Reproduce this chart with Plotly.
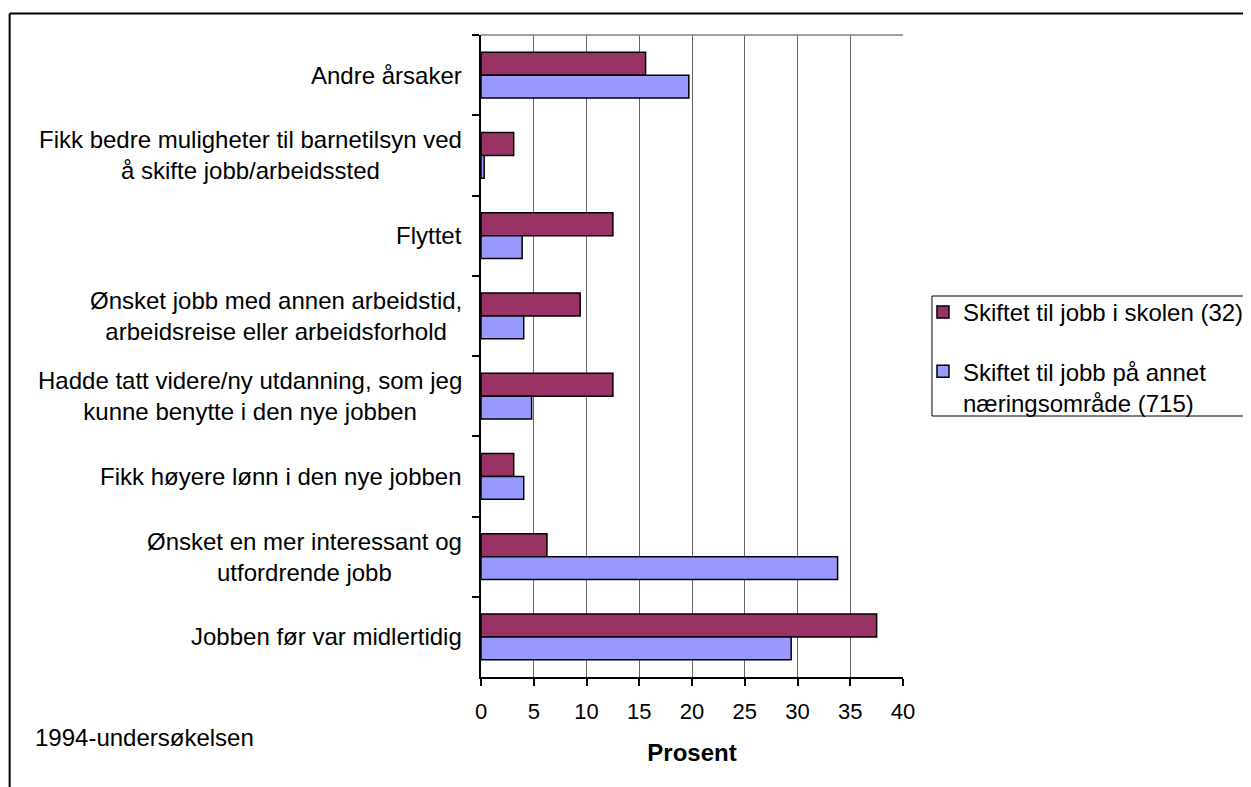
import plotly.graph_objects as go

categories = [
    "Andre årsaker",
    "Fikk bedre muligheter til barnetilsyn ved<br>å skifte jobb/arbeidssted",
    "Flyttet",
    "Ønsket jobb med annen arbeidstid,<br>arbeidsreise eller arbeidsforhold",
    "Hadde tatt videre/ny utdanning, som jeg<br>kunne benytte i den nye jobben",
    "Fikk høyere lønn i den nye jobben",
    "Ønsket en mer interessant og<br>utfordrende jobb",
    "Jobben før var midlertidig",
]
skole = [15.6, 3.1, 12.5, 9.4, 12.5, 3.1, 6.25, 37.5]
annet = [19.7, 0.3, 3.9, 4.05, 4.8, 4.05, 33.8, 29.4]
series_names = ["Skiftet til jobb i skolen (32)", "Skiftet til jobb på annet<br>næringsområde (715)"]
x_ticks = [0, 5, 10, 15, 20, 25, 30, 35, 40]
x_title = "Prosent"
footnote = "1994-undersøkelsen"

FONT = "Liberation Sans, Arial, sans-serif"
W, H = 1251, 787
OFF = 8  # page offset of the figure div (body margin)
# plot area in page pixel coordinates
L, R, T, B = 480.7, 903.0, 35.0, 677.0
PW, PH = R - L, B - T


def px(xp):
    return (xp - L) / PW


def py(yp):
    return (B - yp) / PH


fig = go.Figure()
fig.add_trace(go.Bar(
    y=categories, x=skole, orientation="h", name=series_names[0],
    marker=dict(color="#993366", line=dict(color="black", width=1.5)),
    legendgroup="a",
))
fig.add_trace(go.Bar(
    y=categories, x=annet, orientation="h", name=series_names[1],
    marker=dict(color="#9999FF", line=dict(color="black", width=1.5)),
    legendgroup="b",
))

annotations = []
for c in categories:
    annotations.append(dict(
        x=0, xref="paper", y=c, yref="y", text=c, showarrow=False,
        xanchor="right", yanchor="middle", align="center", xshift=-17,
        font=dict(family=FONT, size=24, color="black"),
    ))
annotations.append(dict(
    x=px(32), xref="paper", y=py(737), yref="paper", text=footnote,
    showarrow=False, xanchor="left", yanchor="middle",
    font=dict(family=FONT, size=24, color="black"),
))

shapes = [
    # plot top border
    dict(type="line", xref="paper", yref="paper", x0=0, x1=1, y0=1, y1=1,
         line=dict(color="#7f7f7f", width=1.5)),
    # outer chart border (top and left)
    dict(type="line", xref="paper", yref="paper", x0=px(9), x1=px(1270), y0=py(13.5), y1=py(13.5),
         line=dict(color="black", width=2)),
    dict(type="line", xref="paper", yref="paper", x0=px(9), x1=px(9), y0=py(13.5), y1=py(800),
         line=dict(color="black", width=2)),
    # legend frame
    dict(type="rect", xref="paper", yref="paper", x0=px(932), x1=px(1262), y0=py(296), y1=py(416),
         line=dict(color="black", width=1), fillcolor="rgba(0,0,0,0)", layer="below"),
]

fig.update_layout(
    width=W, height=H,
    margin=dict(l=L - OFF, r=W - (R - OFF), t=T - OFF, b=H - (B - OFF), pad=0, autoexpand=False),
    paper_bgcolor="white", plot_bgcolor="white",
    barmode="group", bargap=0.427, bargroupgap=0,
    font=dict(family=FONT, size=24, color="black"),
    showlegend=True,
    legend=dict(
        x=px(923), y=py(290), xanchor="left", yanchor="top",
        xref="paper", yref="paper",
        borderwidth=0, bgcolor="rgba(0,0,0,0)",
        font=dict(family=FONT, size=24, color="black"),
        traceorder="grouped", tracegroupgap=25, valign="top",
        itemwidth=30,
    ),
    xaxis=dict(
        range=[0, 40], tickvals=x_ticks, ticktext=[str(v) for v in x_ticks],
        showgrid=True, gridcolor="#666666", gridwidth=1,
        zeroline=False, showline=True, linecolor="black", linewidth=1.5,
        ticks="outside", ticklen=7, tickcolor="black", tickwidth=1.5,
        ticklabelstandoff=7,
        tickfont=dict(family=FONT, size=22, color="black"),
        title=dict(text="<b>" + x_title + "</b>", standoff=21,
                   font=dict(family=FONT, size=24, color="black")),
        fixedrange=True,
    ),
    yaxis=dict(
        categoryorder="array", categoryarray=categories,
        autorange="reversed", showticklabels=False,
        tickson="boundaries", ticks="outside", ticklen=7,
        tickcolor="black", tickwidth=1.5,
        showline=True, linecolor="black", linewidth=2,
        showgrid=False, zeroline=False, fixedrange=True,
    ),
    annotations=annotations,
    shapes=shapes,
)

fig.write_html("out.html")
